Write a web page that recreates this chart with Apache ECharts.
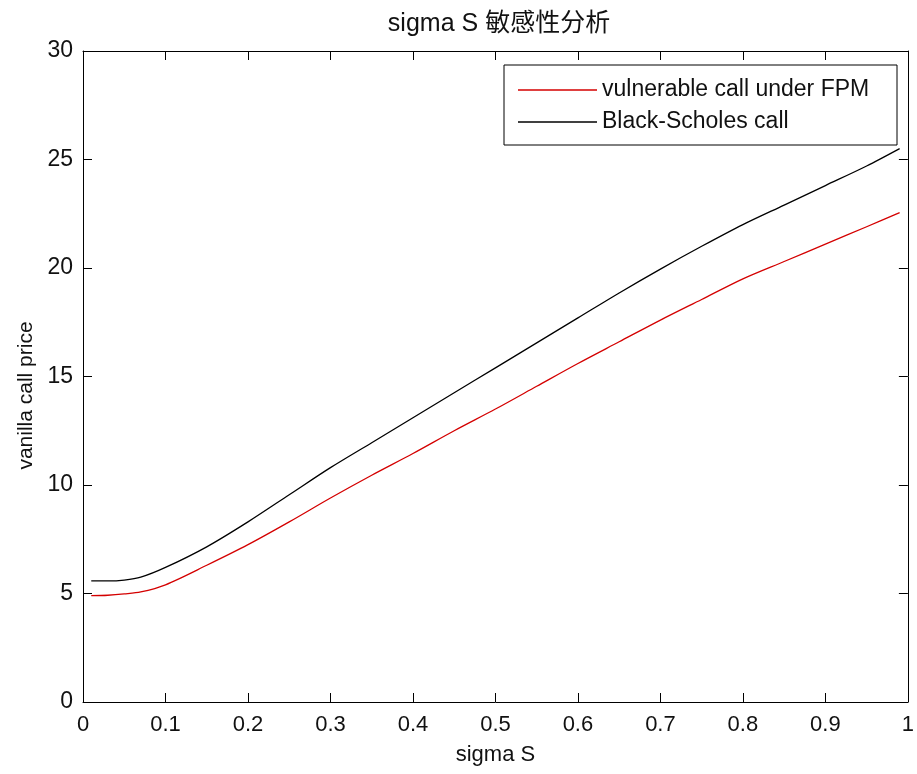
<!DOCTYPE html>
<html>
<head>
<meta charset="utf-8">
<script src="https://cdn.jsdelivr.net/npm/echarts@6/dist/echarts.min.js"></script>
<style>html,body{margin:0;padding:0;background:#fff}#c{width:917px;height:774px}</style>
</head>
<body>
<div id="c"></div>
<script>
const titleText = 'sigma S 敏感性分析';
const xName = 'sigma S';
const yName = 'vanilla call price';
const seriesNames = ['vulnerable call under FPM', 'Black-Scholes call'];
const sigmaS = [0.01,0.03,0.05,0.07,0.1,0.15,0.2,0.25,0.3,0.35,0.4,0.45,0.5,0.55,0.6,0.65,0.7,0.75,0.8,0.85,0.9,0.95,0.99];
const vulnerableCall = [4.9,4.92,4.98,5.07,5.4,6.3,7.25,8.3,9.4,10.45,11.45,12.5,13.5,14.55,15.6,16.6,17.6,18.55,19.5,20.3,21.1,21.9,22.55];
const bsCall = [5.58,5.58,5.62,5.75,6.2,7.15,8.3,9.55,10.8,11.95,13.1,14.25,15.4,16.55,17.7,18.85,19.95,21.0,22.0,22.9,23.8,24.7,25.5];
const xTickLabels = ['0','0.1','0.2','0.3','0.4','0.5','0.6','0.7','0.8','0.9','1'];
const yTickLabels = ['0','5','10','15','20','25','30'];

const FONT = 'Arial, "Liberation Sans", "Noto Sans CJK SC", sans-serif';
const chart = echarts.init(document.getElementById('c'));
const pair = (xs, ys) => xs.map((x, i) => [x, ys[i]]);
const axisLine = {show: true, onZero: false, lineStyle: {color: '#000', width: 1}};
const tick = {show: true, inside: true, length: 9, lineStyle: {color: '#000'}};

chart.setOption({
  backgroundColor: '#fff',
  animation: false,
  title: {
    text: titleText, left: 494, top: 7, textAlign: 'center',
    textStyle: {fontFamily: FONT, fontSize: 25, fontWeight: 'normal', color: '#111'}
  },
  grid: {left: 83, top: 51, right: 7, bottom: 72, containLabel: false},
  legend: {
    orient: 'vertical', left: 504, top: 65,
    backgroundColor: '#fff', borderColor: '#000', borderWidth: 1,
    padding: [12, 14, 10, 14], itemGap: 6, itemWidth: 79, itemHeight: 1.5,
    icon: 'rect',
    textStyle: {fontFamily: FONT, fontSize: 23, color: '#111', lineHeight: 26, width: 281},
    data: seriesNames
  },
  xAxis: [{
    type: 'value', min: 0, max: 1, interval: 0.1, position: 'bottom',
    name: xName, nameLocation: 'middle', nameGap: 42,
    nameTextStyle: {fontFamily: FONT, fontSize: 22, color: '#111'},
    axisLine: axisLine, axisTick: tick, splitLine: {show: false},
    axisLabel: {fontFamily: FONT, fontSize: 22, color: '#111', margin: 12,
      formatter: v => xTickLabels[Math.round(v * 10)]}
  }, {
    type: 'value', min: 0, max: 1, interval: 0.1, position: 'top',
    axisLine: axisLine, axisTick: tick, axisLabel: {show: false}, splitLine: {show: false}
  }],
  yAxis: [{
    type: 'value', min: 0, max: 30, interval: 5, position: 'left',
    name: yName, nameLocation: 'middle', nameGap: 46,
    nameTextStyle: {fontFamily: FONT, fontSize: 21, color: '#111', padding: [0, 38, 0, 0]},
    axisLine: axisLine, axisTick: tick, splitLine: {show: false},
    axisLabel: {fontFamily: FONT, fontSize: 23, color: '#111', margin: 10,
      formatter: v => yTickLabels[Math.round(v / 5)]}
  }, {
    type: 'value', min: 0, max: 30, interval: 5, position: 'right',
    axisLine: axisLine, axisTick: tick, axisLabel: {show: false}, splitLine: {show: false}
  }],
  series: [{
    name: seriesNames[0], type: 'line', xAxisIndex: 0, yAxisIndex: 0,
    data: pair(sigmaS, vulnerableCall), symbol: 'none', smooth: 0.3,
    lineStyle: {color: '#d40000', width: 1.3}, itemStyle: {color: '#d40000'}
  }, {
    name: seriesNames[1], type: 'line', xAxisIndex: 0, yAxisIndex: 0,
    data: pair(sigmaS, bsCall), symbol: 'none', smooth: 0.3,
    lineStyle: {color: '#000', width: 1.3}, itemStyle: {color: '#000'}
  }]
});
</script>
</body>
</html>
